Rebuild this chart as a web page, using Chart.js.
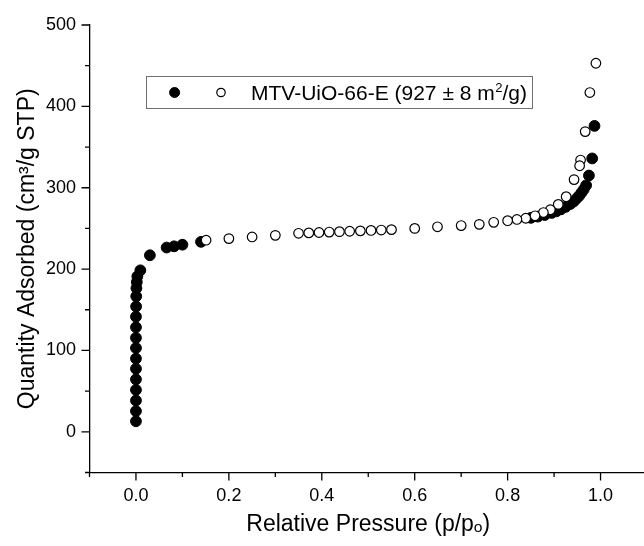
<!DOCTYPE html>
<html>
<head>
<meta charset="utf-8">
<script src="https://cdn.jsdelivr.net/npm/chart.js@4.4.1/dist/chart.umd.min.js"></script>
<style>
  html, body { margin: 0; padding: 0; background: #fff; overflow: hidden; }
  #wrap { position: relative; width: 660px; height: 546px; }
</style>
</head>
<body>
<div id="wrap"><canvas id="iso"></canvas></div>
<script>
// N2 sorption isotherm of MTV-UiO-66-E: adsorption (filled) and desorption (open) branches.

// Adsorption branch: relative pressure p/po and quantity adsorbed (cm3/g STP)
const adsP = [0.0000, 0.0000, 0.0000, 0.0000, 0.0000, 0.0000, 0.0000, 0.0000, 0.0000,
              0.0000, 0.0000, 0.0003, 0.0006, 0.0010, 0.0018, 0.0030, 0.0095,
              0.030, 0.066, 0.082, 0.100, 0.140,
              0.850, 0.865, 0.880, 0.895, 0.905, 0.915, 0.925, 0.935, 0.942,
              0.948, 0.954, 0.959, 0.964, 0.969, 0.975, 0.982, 0.987];
const adsQ = [13.0, 25.5, 38.5, 51.5, 64.5, 77.5, 90.0, 103.0, 115.5,
              128.5, 141.5, 154.0, 166.5, 176.5, 184.0, 191.0, 198.5,
              217.0, 226.5, 228.0, 230.0, 233.5,
              263.0, 264.5, 266.5, 269.0, 271.0, 273.5, 276.5, 280.0, 283.0,
              286.5, 290.0, 294.0, 298.0, 303.0, 315.0, 336.0, 376.0];

// Desorption branch
const desP = [0.990, 0.977, 0.967, 0.957, 0.955, 0.943, 0.926, 0.909, 0.892, 0.877,
              0.859, 0.839, 0.820, 0.800, 0.770, 0.739, 0.700, 0.649, 0.600,
              0.550, 0.528, 0.506, 0.483, 0.460, 0.438, 0.416, 0.394, 0.372, 0.350,
              0.300, 0.250, 0.200, 0.151];
const desQ = [453.0, 417.0, 369.0, 334.0, 327.0, 310.0, 289.0, 279.5, 273.0, 269.5,
              265.5, 262.5, 261.0, 259.5, 257.5, 255.0, 253.5, 252.0, 250.0,
              248.5, 248.0, 247.5, 247.0, 246.5, 246.0, 245.5, 245.0, 244.5, 244.0,
              241.5, 239.5, 237.5, 235.5];

// Axis ticks (every value gets a tick mark; labelled ones are the major ticks)
const xTickValues = [-0.1, 0.0, 0.1, 0.2, 0.3, 0.4, 0.5, 0.6, 0.7, 0.8, 0.9, 1.0, 1.1];
const xTickLabelValues = [0.0, 0.2, 0.4, 0.6, 0.8, 1.0];
const xTickLabels = ['0.0', '0.2', '0.4', '0.6', '0.8', '1.0'];
const yTickValues = [-50, 0, 50, 100, 150, 200, 250, 300, 350, 400, 450, 500];
const yTickLabelValues = [0, 100, 200, 300, 400, 500];
const yTickLabels = ['0', '100', '200', '300', '400', '500'];

const legendParts = ['MTV-UiO-66-E (927 ± 8 m', '2', '/g)'];
const xTitle = 'Relative Pressure (p/pₒ)';
const yTitle = 'Quantity Adsorbed (cm³/g STP)';

const FONT = '"Liberation Sans", Arial, Helvetica, sans-serif';
const INK = '#000';

function labelFor(value, values, labels) {
  const i = values.findIndex(v => Math.abs(v - value) < 1e-6);
  return i >= 0 ? labels[i] : '';
}

const toPoints = (xs, ys) => xs.map((x, i) => ({ x, y: ys[i] }));

// Outward tick marks: long for labelled ticks, short for the ones in between
const tickMarks = {
  id: 'tickMarks',
  afterDraw(chart) {
    const { ctx, chartArea } = chart;
    const x = chart.scales.x, y = chart.scales.y;
    ctx.save();
    ctx.strokeStyle = INK;
    ctx.lineWidth = 1.3;
    ctx.beginPath();
    x.ticks.forEach(t => {
      const px = x.getPixelForValue(t.value);
      const len = labelFor(t.value, xTickLabelValues, xTickLabels) ? 8 : 4.5;
      ctx.moveTo(px, chartArea.bottom);
      ctx.lineTo(px, chartArea.bottom + len);
    });
    y.ticks.forEach(t => {
      const py = y.getPixelForValue(t.value);
      const len = labelFor(t.value, yTickLabelValues, yTickLabels) ? 8 : 4.5;
      ctx.moveTo(chartArea.left, py);
      ctx.lineTo(chartArea.left - len, py);
    });
    ctx.stroke();
    ctx.restore();
  }
};

// Boxed legend: both branch markers followed by one label
const isoLegend = {
  id: 'isoLegend',
  afterDraw(chart) {
    const { ctx } = chart;
    const box = { x: 146.5, y: 76.5, w: 386, h: 32 };
    const cy = box.y + box.h / 2;
    ctx.save();
    ctx.fillStyle = '#fff';
    ctx.fillRect(box.x, box.y, box.w, box.h);
    ctx.strokeStyle = '#6f6f6f';
    ctx.lineWidth = 1;
    ctx.strokeRect(box.x, box.y, box.w, box.h);

    const ads = chart.data.datasets[1], des = chart.data.datasets[0];
    ctx.beginPath();
    ctx.arc(174.6, cy, 5, 0, Math.PI * 2);
    ctx.fillStyle = ads.pointBackgroundColor;
    ctx.fill();
    ctx.lineWidth = ads.pointBorderWidth;
    ctx.strokeStyle = ads.pointBorderColor;
    ctx.stroke();

    ctx.beginPath();
    ctx.arc(221, cy, 4.2, 0, Math.PI * 2);
    ctx.fillStyle = des.pointBackgroundColor;
    ctx.fill();
    ctx.lineWidth = des.pointBorderWidth;
    ctx.strokeStyle = des.pointBorderColor;
    ctx.stroke();

    ctx.fillStyle = INK;
    ctx.textBaseline = 'alphabetic';
    ctx.textAlign = 'left';
    const base = cy + 7.5;
    let tx = 251;
    ctx.font = '21px ' + FONT;
    ctx.fillText(legendParts[0], tx, base);
    tx += ctx.measureText(legendParts[0]).width;
    ctx.font = '13px ' + FONT;
    ctx.fillText(legendParts[1], tx + 0.5, base - 8);
    tx += ctx.measureText(legendParts[1]).width + 0.5;
    ctx.font = '21px ' + FONT;
    ctx.fillText(legendParts[2], tx, base);
    ctx.restore();
  }
};

new Chart(document.getElementById('iso'), {
  type: 'scatter',
  data: {
    datasets: [
      {
        label: 'Desorption',
        data: toPoints(desP, desQ),
        order: 0,
        pointStyle: 'circle',
        pointRadius: 4.8,
        pointBorderWidth: 1.2,
        pointBackgroundColor: '#fff',
        pointBorderColor: '#000',
        showLine: false
      },
      {
        label: 'Adsorption',
        data: toPoints(adsP, adsQ),
        order: 1,
        pointStyle: 'circle',
        pointRadius: 5.4,
        pointBorderWidth: 1,
        pointBackgroundColor: '#000',
        pointBorderColor: '#000',
        showLine: false
      }
    ]
  },
  options: {
    responsive: true,
    maintainAspectRatio: false,
    animation: false,
    events: [],
    layout: { padding: { top: 25, left: 0, right: 0, bottom: 0 } },
    plugins: { legend: { display: false }, tooltip: { enabled: false } },
    scales: {
      x: {
        type: 'linear',
        min: -0.1,
        max: 1.1,
        afterBuildTicks: s => { s.ticks = xTickValues.map(v => ({ value: v })); },
        afterFit: s => { s.height = 73.5; },
        grid: { display: false, drawTicks: false },
        border: { display: true, color: INK, width: 1.3 },
        ticks: {
          autoSkip: false,
          maxRotation: 0,
          padding: 13,
          color: INK,
          font: { family: FONT, size: 18 },
          callback: v => labelFor(v, xTickLabelValues, xTickLabels)
        },
        title: {
          display: true,
          text: xTitle,
          color: INK,
          font: { family: FONT, size: 23 },
          padding: { top: 0, bottom: 8 }
        }
      },
      y: {
        type: 'linear',
        min: -50,
        max: 500,
        afterBuildTicks: s => { s.ticks = yTickValues.map(v => ({ value: v })); },
        afterFit: s => { s.width = 89.5; },
        grid: { display: false, drawTicks: false },
        border: { display: true, color: INK, width: 1.3 },
        ticks: {
          autoSkip: false,
          padding: 13.5,
          color: INK,
          font: { family: FONT, size: 18 },
          callback: v => labelFor(v, yTickLabelValues, yTickLabels)
        },
        title: {
          display: true,
          text: yTitle,
          color: INK,
          font: { family: FONT, size: 23 },
          padding: { top: 14, bottom: 0 }
        }
      }
    }
  },
  plugins: [tickMarks, isoLegend]
});
</script>
</body>
</html>
